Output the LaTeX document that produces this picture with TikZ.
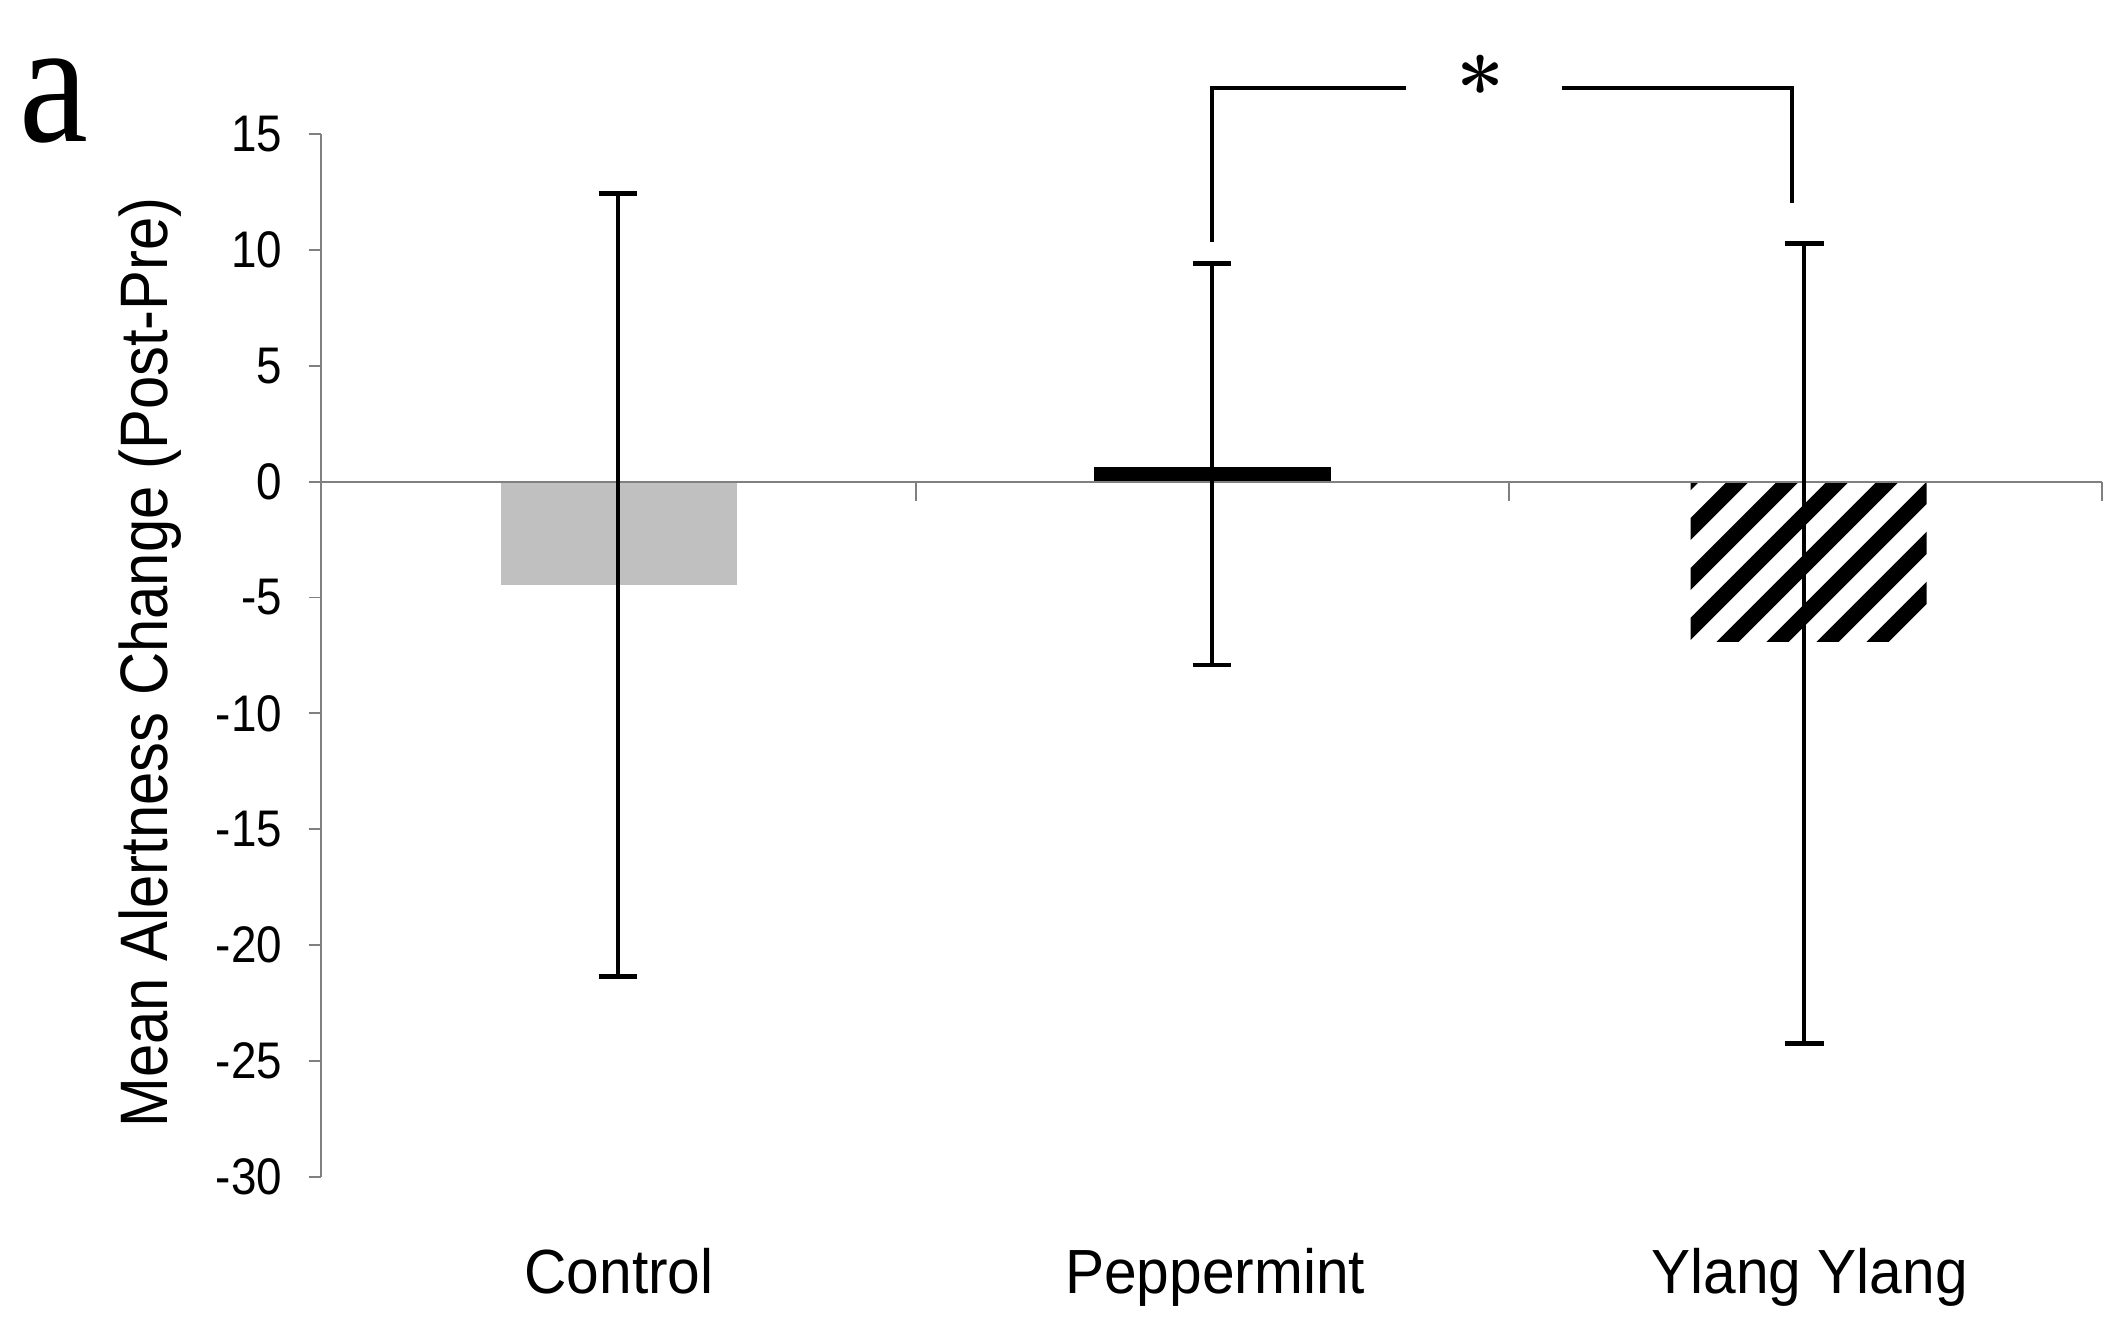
\documentclass[tikz,border=0pt]{standalone}
\usepackage{fontspec}
\newfontfamily\sansA{Liberation Sans}[FakeStretch=0.89]
\newfontfamily\sansB{Liberation Sans}[FakeStretch=0.94]
\newfontfamily\serifA{Liberation Serif}[FakeStretch=0.88]
\definecolor{ctrlgray}{HTML}{C0C0C0}
\definecolor{axisgray}{HTML}{808080}
\tikzset{
  axisline/.style={draw=axisgray, line width=0.4pt},
  errline/.style={draw=black, line width=0.8pt},
  errcap/.style={draw=black, line width=1.0pt},
  bracketline/.style={draw=black, line width=0.8pt},
  ticklab/.style={anchor=east, inner sep=0pt, font=\sansA\fontsize{10.8}{10.8}\selectfont},
  catlab/.style={anchor=base, inner sep=0pt, font=\sansB\fontsize{13.1}{13.1}\selectfont},
  ylab/.style={anchor=base, inner sep=0pt, rotate=90, font=\sansA\fontsize{14.1}{14.1}\selectfont},
}
\begin{document}
\begin{tikzpicture}[x=0.01cm, y=-0.01cm]
\useasboundingbox (0,0) rectangle (1568,979);
\fill[white] (0,0) rectangle (1568,979);

% bars
\fill[ctrlgray] (369.6,355.6) rectangle (543.8,431.9);
\fill[black] (807.6,344.5) rectangle (982.4,355.6);
\begin{scope}
  \clip (1248,357.2) rectangle (1422.3,473.7);
  \foreach \k in {-6,...,6}
    \draw[line width=3.3pt] ({1282+36.9*\k-200},{356.6+200}) -- ({1282+36.9*\k+200},{356.6-200});
\end{scope}

% axes
\draw[axisline] (237,99.2) -- (237,868.6);
\foreach \v in {15,10,...,-30} {
  \draw[axisline] (228,{355.6-17.1*\v}) -- (237,{355.6-17.1*\v});
  \node[ticklab] (t\v) at (209,{355.6-17.1*\v}) {\v};
}
\draw[axisline] (237,355.6) -- (1552,355.6);
\foreach \x in {676,1114,1552}
  \draw[axisline] (\x,355.6) -- (\x,369.8);

% error bars
\coordinate (c1) at (456,142.6); \coordinate (c2) at (456,721);
\draw[errline] (c1) -- (c2);
\draw[errcap] ([xshift=-0.14cm]c1) -- ([xshift=0.14cm]c1);
\draw[errcap] ([xshift=-0.14cm]c2) -- ([xshift=0.14cm]c2);

\coordinate (p1) at (894.5,194.4); \coordinate (p2) at (894.5,490.9);
\draw[errline] (p1) -- (p2);
\draw[errcap] ([xshift=-0.14cm]p1) -- ([xshift=0.14cm]p1);
\draw[errcap] ([xshift=-0.14cm]p2) -- ([xshift=0.14cm]p2);

\coordinate (y1) at (1332,179.6); \coordinate (y2) at (1332,770.4);
\draw[errline] (y1) -- (y2);
\draw[errcap] ([xshift=-0.145cm]y1) -- ([xshift=0.145cm]y1);
\draw[errcap] ([xshift=-0.145cm]y2) -- ([xshift=0.145cm]y2);

% significance bracket
\coordinate (bl0) at (895,178.4);
\coordinate (bl1) at (895,65.2);
\coordinate (bl2) at (1038,65.2);
\coordinate (br2) at (1153,65.2);
\coordinate (br1) at (1323.2,65.2);
\coordinate (br0) at (1323.2,150.1);
\draw[bracketline] (bl0) -- (bl1) -- (bl2);
\draw[bracketline] (br2) -- (br1) -- (br0);
\node[anchor=base, inner sep=0pt, font=\bfseries\fontsize{18}{18}\selectfont] (star) at (1093,88) {*};

% labels
\node[anchor=base west, inner sep=0pt, font=\serifA\fontsize{37}{37}\selectfont] (panel) at (14,104.6) {a};
\node[ylab] (ylabel) at (124,489) {Mean Alertness Change (Post-Pre)};
\node[catlab] (cat1) at (457,955) {Control};
\node[catlab] (cat2) at (897,955) {Peppermint};
\node[catlab] (cat3) at (1336,955) {Ylang Ylang};
\end{tikzpicture}
\end{document}
